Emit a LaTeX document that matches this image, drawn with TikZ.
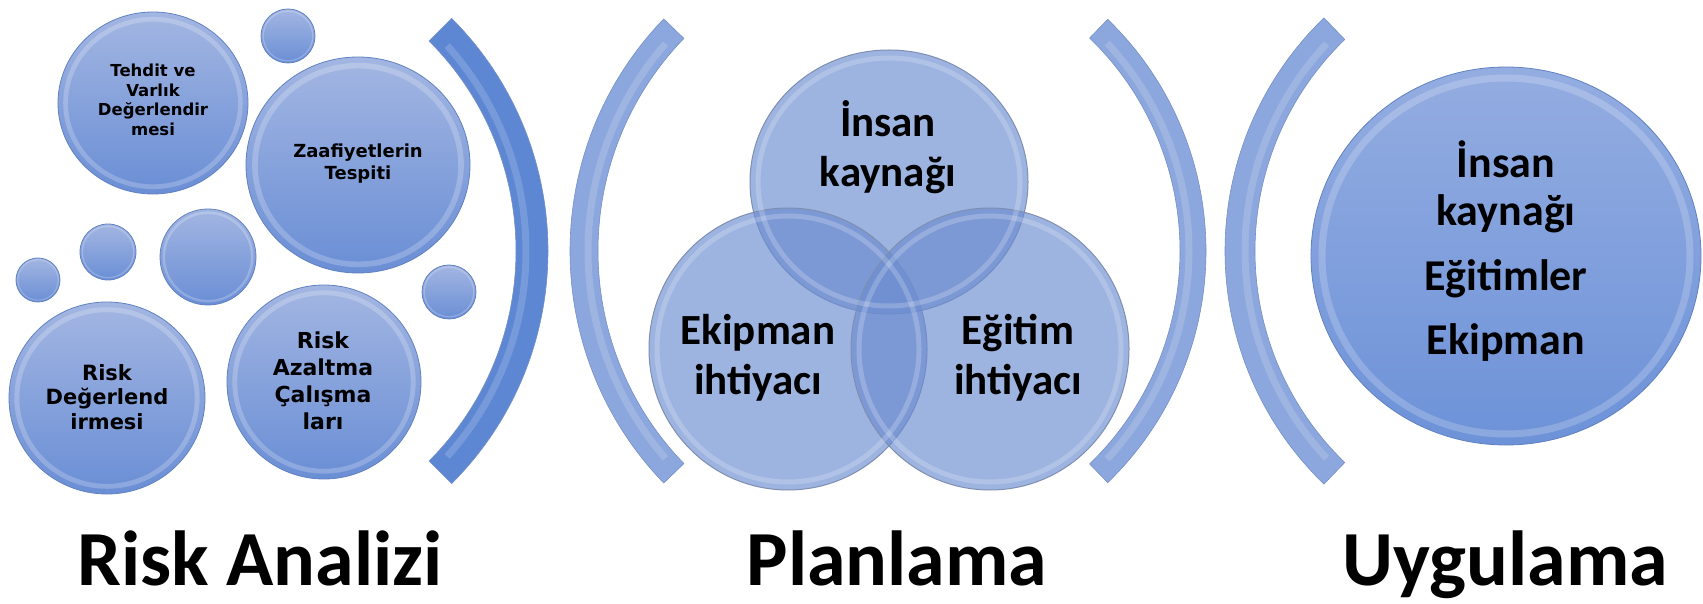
\documentclass[tikz,border=0pt]{standalone}
\usepackage{fontspec}
\setmainfont{Carlito}
\newfontfamily\verd{DejaVu Sans}[BoldFont={DejaVu Sans Bold}]
\usetikzlibrary{shapes.geometric}
\definecolor{bubtop}{HTML}{A3B6E2}
\definecolor{bubbot}{HTML}{6A8ED5}
\definecolor{bubedge}{HTML}{6182C2}
\definecolor{bigtop}{HTML}{94ADE1}
\definecolor{bigbot}{HTML}{6D92D8}
\definecolor{venn}{HTML}{6B8CD0}
\definecolor{vennedge}{HTML}{7F8FB0}
\definecolor{brkdark}{HTML}{5D87D3}
\definecolor{brklight}{HTML}{8CA7DD}
\definecolor{brkedge}{HTML}{7590C8}
\newcommand\mybub[5]{%
  \node[bubble, minimum width={2*#4*1pt}, minimum height={2*#5*1pt}] (#1) at (#2,#3) {};
  \draw[white, opacity=0.22, line width={0.05*#4*1pt}] (#1.center) ellipse [x radius={0.92*#4}, y radius={0.92*#5}];
}
\begin{document}
\begin{tikzpicture}[x=1pt,y=1pt,
  bubble/.style={ellipse, inner sep=0pt, outer sep=0pt, top color=bubtop, bottom color=bubbot, draw=bubedge, line width=0.8pt},
  bigbub/.style={ellipse, inner sep=0pt, outer sep=0pt, top color=bigtop, bottom color=bigbot, draw=bubedge, line width=0.8pt},
  vennc/.style={ellipse, inner sep=0pt, outer sep=0pt, fill=venn, fill opacity=0.66, draw=vennedge, line width=1pt},
  brkA/.style={fill=brkdark, draw=brkedge, line width=0.6pt},
  brkB/.style={fill=brklight, draw=brkedge, line width=0.6pt},
  brkhl/.style={white, opacity=0.16, line width=7pt},
  vlbl/.style={align=center, inner sep=0pt},
  clbl/.style={align=center, inner sep=0pt, font=\bfseries\fontsize{43}{50}\selectfont},
  ttl/.style={anchor=base, inner sep=0pt, font=\bfseries\fontsize{78}{90}\selectfont}]
\useasboundingbox[fill=white] (0,0) rectangle (1703,603);

% brackets
\draw[brkA] ([shift={(45:329)}]219,352) arc[start angle=45,end angle=-45,radius=329]
  -- ([shift={(-45:297)}]219,352) arc[start angle=-45,end angle=45,radius=297] -- cycle;
\draw[brkhl] ([shift={(42:307)}]219,352) arc[start angle=42,end angle=-42,radius=307];

\draw[brkB] ([shift={(136:334)}]904,352) arc[start angle=136,end angle=224,radius=334]
  -- ([shift={(224:306)}]904,352) arc[start angle=224,end angle=136,radius=306] -- cycle;
\draw[brkhl] ([shift={(139:316)}]904,352) arc[start angle=139,end angle=221,radius=316];

\draw[brkB] ([shift={(46:322)}]884,352) arc[start angle=46,end angle=-46,radius=322]
  -- ([shift={(-46:296)}]884,352) arc[start angle=-46,end angle=46,radius=296] -- cycle;
\draw[brkhl] ([shift={(43:305)}]884,352) arc[start angle=43,end angle=-43,radius=305];

\draw[brkB] ([shift={(134:324)}]1549,352) arc[start angle=134,end angle=226,radius=324]
  -- ([shift={(226:294)}]1549,352) arc[start angle=226,end angle=134,radius=294] -- cycle;
\draw[brkhl] ([shift={(137:304)}]1549,352) arc[start angle=137,end angle=223,radius=304];

% left bubbles
\mybub{tehdit}{153}{500}{95}{91}
\mybub{btop}{288}{567}{27}{27}
\mybub{zaaf}{358}{438}{112}{108}
\mybub{btiny}{38}{323}{22}{22}
\mybub{bsmall}{108}{351}{28}{28}
\mybub{bmed}{208}{346}{48}{48}
\mybub{bright}{449}{311}{27}{27}
\mybub{riskdeg}{107}{205}{98}{96}
\mybub{riskaz}{324}{221}{97}{97}

\node[vlbl, font=\verd\bfseries\fontsize{16.5}{19.7}\selectfont] (tTehdit) at (153,503) {Tehdit ve\\Varlık\\Değerlendir\\mesi};
\node[vlbl, font=\verd\bfseries\fontsize{18}{22}\selectfont] (tZaaf) at (358,439) {Zaafiyetlerin\\Tespiti};
\node[vlbl, font=\verd\bfseries\fontsize{21}{24.5}\selectfont] (tRiskDeg) at (107,206) {Risk\\Değerlend\\irmesi};
\node[vlbl, font=\verd\bfseries\fontsize{22}{27}\selectfont] (tRiskAz) at (323,222) {Risk\\Azaltma\\Çalışma\\ları};

% venn
\node[vennc, minimum width=278pt, minimum height=264pt] (vtop) at (889,421) {};
\node[vennc, minimum width=278pt, minimum height=282pt] (vbl) at (788,254) {};
\node[vennc, minimum width=278pt, minimum height=282pt] (vbr) at (990,254) {};
\draw[white, opacity=0.2, line width=5pt] (vtop.center) ellipse [x radius=131, y radius=124];
\draw[white, opacity=0.2, line width=5pt] (vbl.center) ellipse [x radius=131, y radius=133];
\draw[white, opacity=0.2, line width=5pt] (vbr.center) ellipse [x radius=131, y radius=133];
\node[clbl] (tInsan) at (888,456) {İnsan\\kaynağı};
\node[clbl] (tEkip) at (758,245) {Ekipman\\ihtiyacı};
\node[clbl] (tEgit) at (1018,245) {Eğitim\\ihtiyacı};

% big circle
\node[bigbub, minimum width=390pt, minimum height=378pt] (big) at (1506,347) {};
\draw[white, opacity=0.2, line width=7pt] (big.center) ellipse [x radius=184, y radius=178];
\node[vlbl, font=\bfseries\fontsize{44}{48}\selectfont] (tBig) at (1506,352) {İnsan\\kaynağı\\[17pt]Eğitimler\\[16pt]Ekipman};

% titles
\node[ttl] (ra) at (260,18) {Risk Analizi};
\node[ttl] (pl) at (897,18) {Planlama};
\node[ttl] (uy) at (1505,18) {Uygulama};
\end{tikzpicture}
\end{document}
